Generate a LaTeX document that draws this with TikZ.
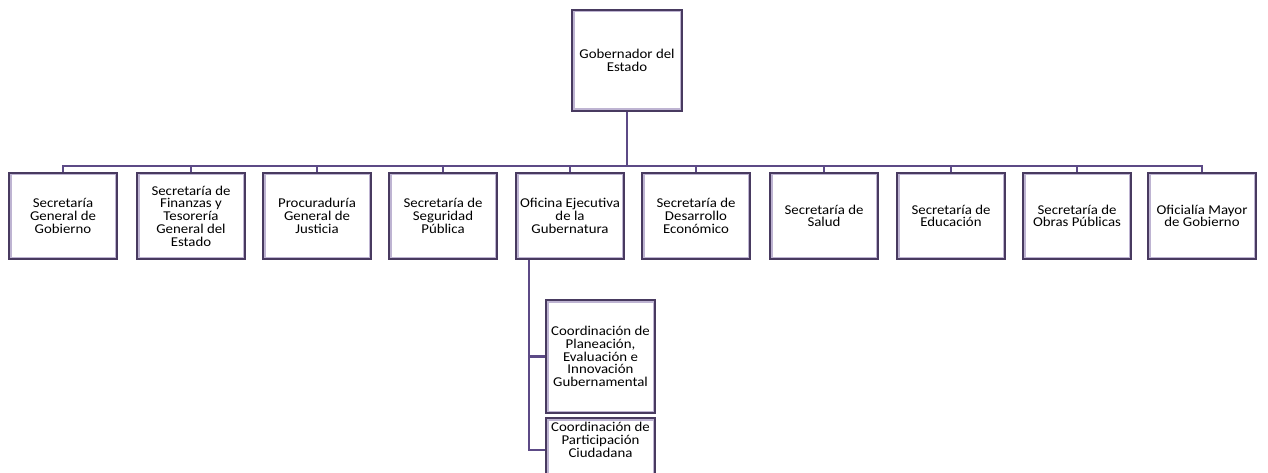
\documentclass[tikz,border=0pt]{standalone}
\usepackage{fontspec}
\setmainfont{Carlito}[FakeStretch=1.1]
\definecolor{boxdark}{RGB}{72,58,96}
\definecolor{boxlav}{RGB}{190,180,210}
\definecolor{conn}{RGB}{92,74,134}
\begin{document}
\begin{tikzpicture}[x=1pt,y=-1pt,
  box/.style={rectangle, draw=boxdark, line width=2pt, fill=white,
    align=center, inner sep=2pt,
    font=\fontsize{13.5}{12.7}\selectfont,
    path picture={\draw[boxlav, line width=5pt] (path picture bounding box.south west) rectangle (path picture bounding box.north east);}},
  rowbox/.style={box, minimum width=108pt, minimum height=86pt},
  link/.style={conn, line width=2.4pt},
  txt/.style={align=center, font=\fontsize{13.5}{12.7}\selectfont, inner sep=0pt}]
\clip (0,0) rectangle (1268,473);
\useasboundingbox (0,0) rectangle (1268,473);
\fill[white] (0,0) rectangle (1268,473);

\node[box, minimum width=110pt, minimum height=101pt] (gob) at (627,60.5) {Gobernador del\\Estado};

\node[rowbox] (r1) at (63,216) {Secretaría\\General de\\Gobierno};
\node[rowbox] (r2) at (191,216) {Secretaría de\\Finanzas y\\Tesorería\\General del\\Estado};
\node[rowbox] (r3) at (317,216) {Procuraduría\\General de\\Justicia};
\node[rowbox] (r4) at (443,216) {Secretaría de\\Seguridad\\Pública};
\node[rowbox] (r5) at (570,216) {Oficina Ejecutiva\\de la\\Gubernatura};
\node[rowbox] (r6) at (696,216) {Secretaría de\\Desarrollo\\Económico};
\node[rowbox] (r7) at (824,216) {Secretaría de\\Salud};
\node[rowbox] (r8) at (951,216) {Secretaría de\\Educación};
\node[rowbox] (r9) at (1077,216) {Secretaría de\\Obras Públicas};
\node[rowbox] (r10) at (1202,216) {Oficialía Mayor\\de Gobierno};

\node[box, minimum width=109pt, minimum height=113pt] (ca) at (600.5,356.5) {Coordinación de\\Planeación,\\Evaluación e\\Innovación\\Gubernamental};
\node[box, minimum width=109pt, minimum height=64pt] (cb) at (600.5,450) {};
\node[txt] (cbt) at (600.5,440) {Coordinación de\\Participación\\Ciudadana};

\coordinate (bus) at (0,166);
\foreach \n in {r1,r2,r3,r4,r5,r6,r7,r8,r9,r10}{
  \draw[link] (gob.south) -- (gob.south |- bus) -| (\n.north);
}
\coordinate (sv) at ([xshift=14pt]r5.south west);
\draw[link] (sv) |- (ca.west);
\draw[link] (sv) |- (cb.west);
\end{tikzpicture}
\end{document}
